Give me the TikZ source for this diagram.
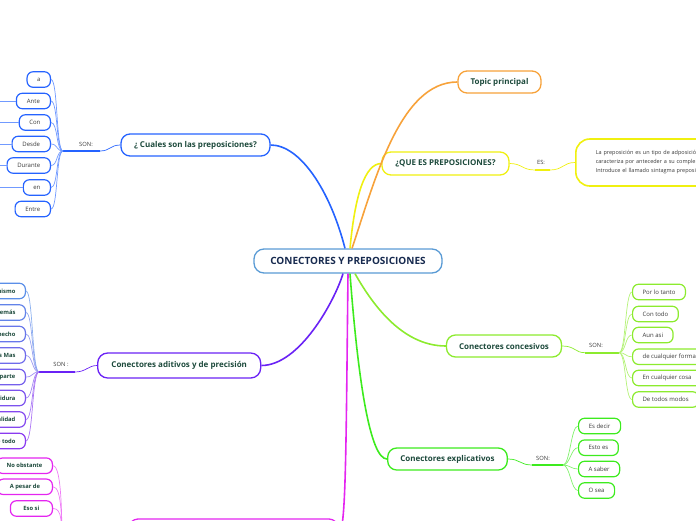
\documentclass[tikz,border=0pt]{standalone}
\usepackage{fontspec}
\setmainfont{Open Sans}
\definecolor{cCenter}{HTML}{5A9BD5}
\definecolor{cOrange}{HTML}{F7A23A}
\definecolor{cYellow}{HTML}{F0F010}
\definecolor{cBlue}{HTML}{2563FF}
\definecolor{cPurple}{HTML}{6A22F5}
\definecolor{cMagenta}{HTML}{E425F0}
\definecolor{cLime}{HTML}{8CEB2E}
\definecolor{cGreen}{HTML}{3DEB1E}
\definecolor{tGreen}{HTML}{1D4A3C}
\definecolor{tNavy}{HTML}{172A4F}
\definecolor{tGray}{HTML}{3A3A3A}
\definecolor{pA}{HTML}{5B8FE8}
\definecolor{pB}{HTML}{8A3AF0}
\begin{document}
\begin{tikzpicture}[x=1pt,y=-1pt,
  title/.style={draw, line width=1.3pt, rounded corners=9pt, fill=white,
    font=\bfseries\fontsize{8}{9}\selectfont, text=tGreen, inner sep=0pt},
  child/.style={draw, line width=1.2pt, rounded corners=6pt, fill=white,
    font=\fontsize{6}{7}\selectfont, text=tGray, inner ysep=0pt, inner xsep=10pt,
    minimum height=15.5pt},
  bchild/.style={child, font=\bfseries\fontsize{5.8}{7}\selectfont, text=tGreen},
  lab/.style={font=\fontsize{5.8}{7}\selectfont, text=tGray, inner sep=0pt},
  main/.style={line width=1.6pt},
  sub/.style={line width=0.7pt}]
\useasboundingbox (0,0) rectangle (696,520);
\clip (0,0) rectangle (696,520);

% ---------- main nodes ----------
\node[title, draw=cCenter, text=tNavy, font=\bfseries\fontsize{10}{11}\selectfont,
  minimum width=188pt, minimum height=24pt, rounded corners=10pt] (cen) at (348,261) {CONECTORES Y PREPOSICIONES};
\node[title, draw=cOrange, minimum width=83pt, minimum height=22pt] (topic) at (499.5,82) {Topic principal};
\node[title, draw=cYellow, minimum width=127pt, minimum height=23pt] (que) at (445.5,163.5) {¿QUE ES PREPOSICIONES?};
\node[title, draw=cBlue, minimum width=149pt, minimum height=22pt] (cual) at (195.5,145) {¿ Cuales son las preposiciones?};
\node[title, draw=cPurple, minimum width=163pt, minimum height=25pt, rounded corners=10pt] (adit) at (179.2,365.5) {Conectores aditivos y de precisión};
\node[title, draw=cLime, minimum width=115pt, minimum height=22pt] (conc) at (504,346) {Conectores concesivos};
\node[title, draw=cGreen, minimum width=119.6pt, minimum height=22pt] (expl) at (447.5,459) {Conectores explicativos};
\node[title, draw=cMagenta, minimum width=209pt, minimum height=26pt] (mag) at (233.5,532) {};

% big definition box
\node[draw=cYellow, line width=1.6pt, rounded corners=14pt, fill=white, anchor=west,
  minimum height=47pt, text width=210pt, inner xsep=20pt, align=left,
  font=\fontsize{5.5}{9}\selectfont, text=tGray] (def) at (575,162.5)
  {La preposición es un tipo de adposición que se\\caracteriza por anteceder a su complemento.\\Introduce el llamado sintagma preposicional.};

% ---------- main connectors ----------
\draw[main, cBlue] ([xshift=-3pt]cen.north) .. controls (330,190) and (300,145) .. (cual.east);
\draw[main, cYellow] ([xshift=2pt]cen.north) .. controls (355,195) and (365,163.5) .. (que.west);
\draw[main, cOrange] ([xshift=4pt]cen.north) .. controls (375,180) and (400,82) .. (topic.west);
\draw[main, cPurple] ([xshift=-5pt]cen.south) .. controls (335,300) and (300,365.5) .. (adit.east);
\draw[main, cMagenta] (cen.south) .. controls (346,450) and (346,535) .. (mag.east);
\draw[main, cGreen] ([xshift=2pt]cen.south) .. controls (358,380) and (370,459) .. (expl.west);
\draw[main, cLime] ([xshift=7pt]cen.south) .. controls (370,300) and (400,346) .. (conc.west);

% ---------- QUE ES -> definition ----------
\coordinate (qa) at (535,170); \coordinate (qb) at (550,170);
\draw[sub, cYellow] (que.east) .. controls (522,163.5) and (522,170) .. (qa);
\draw[main, cYellow] (qa) -- (qb);
\draw[sub, cYellow] (qb) .. controls (563,170) and (563,162.5) .. (def.west);
\node[lab] (les) at (541,162.5) {ES:};

% ---------- Cuales children ----------
\coordinate (hb) at (63,151); \coordinate (hbm) at (100,151);
\draw[sub, cBlue] (cual.west) .. controls (110,145) and (110,151) .. (hbm);
\draw[main, cBlue] (hbm) -- (hb);
\node[lab] (lsonb) at (86,144) {SON:};
\node[child, draw=cBlue, anchor=east, minimum width=23pt] (ba) at (51,79.5) {a};
\node[child, draw=cBlue, anchor=east, minimum width=34pt] (bante) at (51,101) {Ante};
\node[child, draw=cBlue, anchor=east, minimum width=31pt] (bcon) at (51,122.5) {Con};
\node[child, draw=cBlue, anchor=east, minimum width=38.3pt] (bdesde) at (51,144) {Desde};
\node[child, draw=cBlue, anchor=east, minimum width=43.3pt] (bdur) at (51,165.5) {Durante};
\node[child, draw=cBlue, anchor=east, minimum width=27pt] (ben) at (51,187.5) {en};
\node[child, draw=cBlue, anchor=east, minimum width=35.3pt] (bentre) at (51,209) {Entre};
\foreach \n in {ba,bante,bcon,bdesde,bdur,ben,bentre}
  \draw[sub, cBlue!65] (hb) .. controls +(-7,0) and +(7,0) .. (\n.east);
\foreach \n/\y in {bante/101,bcon/122.5,bdesde/144,bdur/165.5,ben/187.5}{
  \coordinate (\n L) at (-5,\y);
  \draw[sub, cBlue!65] (\n.west) -- (\n L);
}

% ---------- aditivos children ----------
\coordinate (hp) at (39,372); \coordinate (hpm) at (75,372);
\draw[sub, cPurple] (adit.west) .. controls (88,365.5) and (86,372) .. (hpm);
\draw[main, cPurple] (hpm) -- (hp);
\node[lab] (lsonp) at (61,364.5) {SON :};
\foreach \n/\y/\t/\c in {p1/291/Asimismo/0, p2/312.5/Además/14, p3/334/De hecho/28, p4/355.5/Es Mas/42,
  p5/377/Por otra parte/56, p6/398/Por añadidura/70, p7/419.5/En realidad/85, p8/441/Sobre todo/100}{
  \node[bchild, draw=pB!\c!pA, anchor=east] (\n) at (26,\y) {\t};
  \draw[sub, pB!\c!pA!70] (hp) .. controls +(-7,0) and +(7,0) .. (\n.east);
}

% ---------- magenta children ----------
\coordinate (hm) at (62,560);
\node[bchild, draw=cMagenta, anchor=east, minimum width=55pt] (m1) at (53,465.7) {No obstante};
\node[bchild, draw=cMagenta, anchor=east, minimum width=55pt] (m2) at (53,486.8) {A pesar de};
\node[bchild, draw=cMagenta, anchor=east, minimum width=42pt] (m3) at (53,508.5) {Eso si};
\foreach \n in {m1,m2,m3}
  \draw[sub, cMagenta!60] (\n.east) .. controls +(9,0) and +(0,-40) .. (hm);

% ---------- concesivos children ----------
\coordinate (hc) at (619,352.7); \coordinate (hcm) at (585,352.7);
\draw[sub, cLime] (conc.east) .. controls (575,346) and (575,352.7) .. (hcm);
\draw[main, cLime] (hcm) -- (hc);
\node[lab] (lsonc) at (596,345) {SON:};
\node[child, draw=cLime, anchor=west, minimum width=52pt] (c1) at (632,292) {Por lo tanto};
\node[child, draw=cLime, anchor=west, minimum width=45pt] (c2) at (632,314) {Con todo};
\node[child, draw=cLime, anchor=west, minimum width=40pt] (c3) at (632,335) {Aun asi};
\node[child, draw=cLime, anchor=west] (c4) at (632,356.7) {de cualquier forma};
\node[child, draw=cLime, anchor=west] (c5) at (632,378) {En cualquier cosa};
\node[child, draw=cLime, anchor=west] (c6) at (632,399.5) {De todos modos};
\foreach \n in {c1,c2,c3,c4,c5,c6}
  \draw[sub, cLime!65] (hc) .. controls +(7,0) and +(-7,0) .. (\n.west);

% ---------- explicativos children ----------
\coordinate (he) at (563,465); \coordinate (hem) at (532,465);
\draw[sub, cGreen] (expl.east) .. controls (520,459) and (520,465) .. (hem);
\draw[main, cGreen] (hem) -- (he);
\node[lab] (lsone) at (543,458) {SON:};
\node[child, draw=cGreen, anchor=west, minimum width=42pt] (e1) at (578,426) {Es decir};
\node[child, draw=cGreen, anchor=west, minimum width=39.7pt] (e2) at (578,447.7) {Esto es};
\node[child, draw=cGreen, anchor=west, minimum width=41pt] (e3) at (578,469) {A saber};
\node[child, draw=cGreen, anchor=west, minimum width=36pt] (e4) at (578,490.5) {O sea};
\foreach \n in {e1,e2,e3,e4}
  \draw[sub, cGreen!65] (he) .. controls +(7,0) and +(-7,0) .. (\n.west);
\end{tikzpicture}
\end{document}
